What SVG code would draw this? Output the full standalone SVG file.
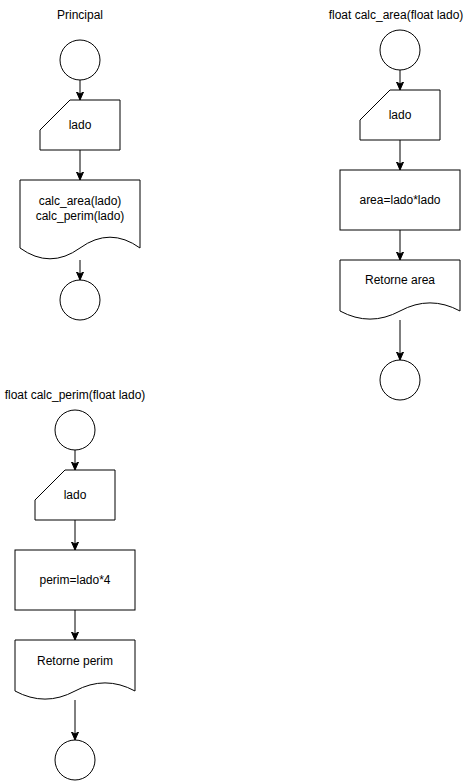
<svg xmlns="http://www.w3.org/2000/svg" width="474" height="781" viewBox="0 0 474 781">
<defs>
<marker id="arr" markerUnits="userSpaceOnUse" markerWidth="9" markerHeight="9" refX="8" refY="4" orient="auto" viewBox="0 0 9 8">
<path d="M0,0.5 L8,4 L0,7.5 L2,4 Z" fill="#000" stroke="#000" stroke-width="1"/>
</marker>
<style>
.s{fill:#fff;stroke:#000;stroke-width:1}
.c{fill:none;stroke:#000;stroke-width:1;marker-end:url(#arr)}
text{font-family:"Liberation Sans",Arial,sans-serif;font-size:12px;fill:#000;text-anchor:middle}
</style>
</defs>
<rect width="474" height="781" fill="#fff"/>
<g id="titles">
<text x="80" y="19">Principal</text>
<text x="396" y="19">float calc_area(float lado)</text>
<text x="75" y="399">float calc_perim(float lado)</text>
</g>
<g id="connectors">
<line class="c" x1="80" y1="80" x2="80" y2="100"/>
<line class="c" x1="80" y1="150" x2="80" y2="180"/>
<line class="c" x1="80" y1="260" x2="80" y2="280"/>
<line class="c" x1="400" y1="70" x2="400" y2="90"/>
<line class="c" x1="400" y1="140" x2="400" y2="170"/>
<line class="c" x1="400" y1="230" x2="400" y2="260"/>
<line class="c" x1="400" y1="320" x2="400" y2="360"/>
<line class="c" x1="75" y1="450" x2="75" y2="470"/>
<line class="c" x1="75" y1="520" x2="75" y2="550"/>
<line class="c" x1="75" y1="610" x2="75" y2="640"/>
<line class="c" x1="75" y1="700" x2="75" y2="740"/>
</g>
<g id="p_start"><circle class="s" cx="80" cy="60" r="20"/></g>
<g id="p_input"><path class="s" d="M70,100 L120,100 L120,150 L40,150 L40,130 Z"/><text x="80" y="129">lado</text></g>
<g id="p_doc"><path class="s" d="M20,180 L140,180 L140,248 Q110,226.4 80,248 Q50,269.6 20,248 Z"/><text x="80" y="205">calc_area(lado)</text><text x="80" y="220">calc_perim(lado)</text></g>
<g id="p_end"><circle class="s" cx="80" cy="300" r="20"/></g>
<g id="a_start"><circle class="s" cx="400" cy="50" r="20"/></g>
<g id="a_input"><path class="s" d="M390,90 L440,90 L440,140 L360,140 L360,120 Z"/><text x="400" y="119">lado</text></g>
<g id="a_proc"><rect class="s" x="340" y="170" width="120" height="60"/><text x="400" y="204">area=lado*lado</text></g>
<g id="a_doc"><path class="s" d="M340,260 L460,260 L460,311 Q430,294.8 400,311 Q370,327.2 340,311 Z"/><text x="400" y="284">Retorne area</text></g>
<g id="a_end"><circle class="s" cx="400" cy="380" r="20"/></g>
<g id="m_start"><circle class="s" cx="75" cy="430" r="20"/></g>
<g id="m_input"><path class="s" d="M65,470 L115,470 L115,520 L35,520 L35,500 Z"/><text x="75" y="499">lado</text></g>
<g id="m_proc"><rect class="s" x="15" y="550" width="120" height="60"/><text x="75" y="584">perim=lado*4</text></g>
<g id="m_doc"><path class="s" d="M15,640 L135,640 L135,691 Q105,674.8 75,691 Q45,707.2 15,691 Z"/><text x="75" y="665">Retorne perim</text></g>
<g id="m_end"><circle class="s" cx="75" cy="760" r="20"/></g>
</svg>
